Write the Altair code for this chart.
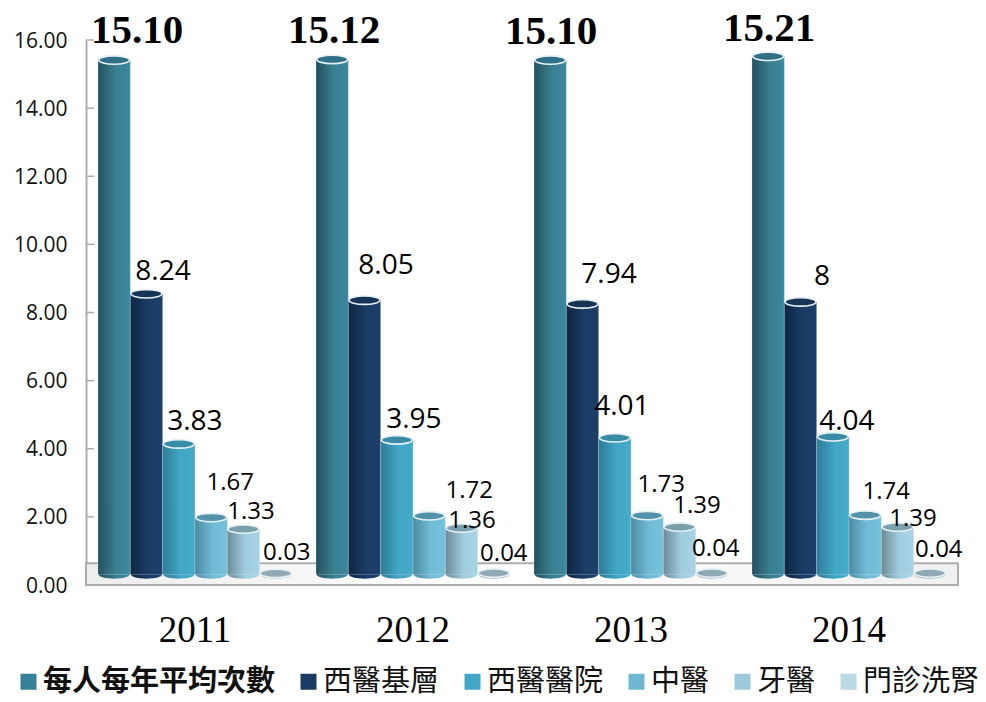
import altair as alt
import pandas as pd

YEARS = ["2011", "2012", "2013", "2014"]
SERIES = ["每人每年平均次數", "西醫基層", "西醫醫院", "中醫", "牙醫", "門診洗腎"]
VALUES = {
    "每人每年平均次數": [15.10, 15.12, 15.10, 15.21],
    "西醫基層": [8.24, 8.05, 7.94, 8.00],
    "西醫醫院": [3.83, 3.95, 4.01, 4.04],
    "中醫": [1.67, 1.72, 1.73, 1.74],
    "牙醫": [1.33, 1.36, 1.39, 1.39],
    "門診洗腎": [0.03, 0.04, 0.04, 0.04],
}
LABELS = {
    "每人每年平均次數": ["15.10", "15.12", "15.10", "15.21"],
    "西醫基層": ["8.24", "8.05", "7.94", "8"],
    "西醫醫院": ["3.83", "3.95", "4.01", "4.04"],
    "中醫": ["1.67", "1.72", "1.73", "1.74"],
    "牙醫": ["1.33", "1.36", "1.39", "1.39"],
    "門診洗腎": ["0.03", "0.04", "0.04", "0.04"],
}
TICKS = [0, 2, 4, 6, 8, 10, 12, 14, 16]

# hand-placed label nudges of the original, by series then year
LABEL_DX = [[23, 2, 1, 1], [16.5, 21.5, 26.5, 21.5], [16, 17, 7, 14],
            [19, 40, 14, 21], [7.5, 10.5, 17.5, 15.5], [11, 10, 4, 9]]
LABEL_DY = [[-40, -39, -39, -38], [-32, -45, -40, -36], [-33, -30, -41, -25],
            [-45, -35, -41, -34], [-28, -18, -32, -19], [-31, -30, -35, -34]]

LEGEND_COLORS = ["#36819A", "#1A3B64", "#42A6C5", "#6EB8D4", "#9CC9DC", "#BBD9E4"]
BAR_STOPS = [
    ("#23505f", "#39808f", "#3c87a0"),
    ("#0e2743", "#1a3b64", "#1c3f6a"),
    ("#2c7d95", "#42a6c4", "#45abc9"),
    ("#4d8ba1", "#70bcd6", "#76c2dc"),
    ("#6c8995", "#a0cde0", "#a8d3e5"),
    ("#8fa9b5", "#a0bac6", "#a8c2cd"),
]
TOP_FILL = ["#2f7086", "#163456", "#3a8ba5", "#5492aa", "#7b9fad", "#8fa9b5"]
DEPTH = 0.31  # the cylinders stand this far back on the 3-D floor
ELLIPSE = "M-1,0A1,0.27,0,1,1,1,0A1,0.27,0,1,1,-1,0Z"
W, H = 872, 545

rows = [
    {"year": y, "series": s, "value": VALUES[s][j], "label": LABELS[s][j]}
    for s in SERIES for j, y in enumerate(YEARS)
]
df = pd.DataFrame(rows)
data = alt.Data(values=df.to_dict("records"))

x = alt.X("year:N", scale=alt.Scale(domain=YEARS, paddingInner=0.11, paddingOuter=0.055),
          axis=alt.Axis(title=None, labelAngle=0, domain=False, ticks=False, labelPadding=27,
                        labelFont="Liberation Serif", labelFontSize=37, labelColor="#000000", grid=False))
xo = alt.XOffset("series:N", scale=alt.Scale(domain=SERIES, paddingInner=0, paddingOuter=0))
yscale = alt.Scale(domain=[0, 16], nice=False)
yaxis = alt.Axis(values=TICKS, format=".2f", title=None, grid=False, ticks=False, labelPadding=19,
                 labelFont="Open Sans", labelFontSize=21, labelColor="#111111", labelOffset=1,
                 domainColor="#adadad", domainWidth=2)
ytop = alt.Y("top:Q", scale=yscale, title=None, axis=yaxis)
yval = alt.Y("value:Q", scale=yscale, title=None, axis=yaxis)


def grad(stops):
    return alt.LinearGradient(
        gradient="linear", x1=0, x2=1, y1=0, y2=0,
        stops=[alt.GradientStop(color=stops[0], offset=0),
               alt.GradientStop(color=stops[1], offset=0.55),
               alt.GradientStop(color=stops[2], offset=1)])


floor = alt.Chart(alt.Data(values=[{"a": 0, "b": 0.64}])).mark_rect(
    fill=alt.LinearGradient(gradient="linear", x1=0, x2=1, y1=0, y2=0, stops=[
        alt.GradientStop(color="#eeeeee", offset=0), alt.GradientStop(color="#ffffff", offset=0.5),
        alt.GradientStop(color="#f0f0f0", offset=1)]),
    stroke="#adadad", strokeWidth=2,
).encode(x=alt.value(0), x2=alt.value(W), y=alt.Y("a:Q", scale=yscale, title=None, axis=yaxis), y2="b:Q")

ticks = alt.Chart(alt.Data(values=[{"t": t} for t in TICKS])).mark_rule(
    color="#adadad", strokeWidth=1.5
).encode(x=alt.value(0), x2=alt.value(8), y=alt.Y("t:Q", scale=yscale, title=None, axis=yaxis))

layers = [floor, ticks]

# invisible marks that only carry the legend
legend_layer = alt.Chart(data).mark_square(size=0, opacity=1).encode(
    x=x, xOffset=xo,
    y=yval,
    color=alt.Color("series:N", scale=alt.Scale(domain=SERIES, range=LEGEND_COLORS),
                    legend=alt.Legend(
                        title=None, orient="none", legendX=-72, legendY=627, columns=6, direction="horizontal",
                        symbolType="square", symbolSize=256, symbolStrokeWidth=0, labelOffset=0, symbolOpacity=1,
                        columnPadding=18, labelFont="Noto Sans CJK TC", labelFontSize=29, labelColor="#111111",
                        labelLimit=400,
                        labelFontWeight={"expr": "datum.label == '每人每年平均次數' ? 'bold' : 'normal'"})),
)
layers.append(legend_layer)

for i, s in enumerate(SERIES):
    base = alt.Chart(data).transform_filter(alt.datum.series == s).transform_calculate(
        top=f"datum.value + {DEPTH}", bottom=f"{DEPTH}")
    enc_x = dict(x=x, xOffset=xo)
    layers.append(base.mark_point(shape=ELLIPSE, size=961, filled=True, fill=grad(BAR_STOPS[i]), opacity=1).encode(
        y=alt.Y("bottom:Q", scale=yscale, title=None, axis=yaxis), **enc_x))
    if s != "門診洗腎":
        layers.append(base.mark_bar(fill=grad(BAR_STOPS[i]), stroke="#dfeaee", strokeWidth=0.4, strokeOpacity=0.7).encode(
            y=ytop, y2="bottom:Q", **enc_x))
    layers.append(base.mark_point(shape=ELLIPSE, size=961, filled=True, fill=TOP_FILL[i], stroke="#e6f1f4",
                                  strokeWidth=1.6, opacity=1).encode(y=ytop, **enc_x))

for i, s in enumerate(SERIES):
    for j, yr in enumerate(YEARS):
        font = dict(font="Liberation Serif", fontSize=41, fontWeight="bold") if i == 0 else (
            dict(font="Open Sans", fontSize=28) if i < 3 else dict(font="Open Sans", fontSize=24))
        layers.append(
            alt.Chart(data).transform_filter(
                (alt.datum.series == s) & (alt.datum.year == yr)
            ).mark_text(color="#000000", align="center", baseline="middle",
                        dx=LABEL_DX[i][j], dy=LABEL_DY[i][j], **font).encode(
                x=x, xOffset=xo, y=yval, text="label:N")
        )

chart = alt.layer(*layers).properties(
    width=W, height=H, padding={"left": 78, "top": 32, "right": 20, "bottom": 109},
    autosize=alt.AutoSizeParams(type="none"),
).configure_view(stroke=None)

chart.save("out.html", embed_options={"renderer": "svg", "actions": False})
